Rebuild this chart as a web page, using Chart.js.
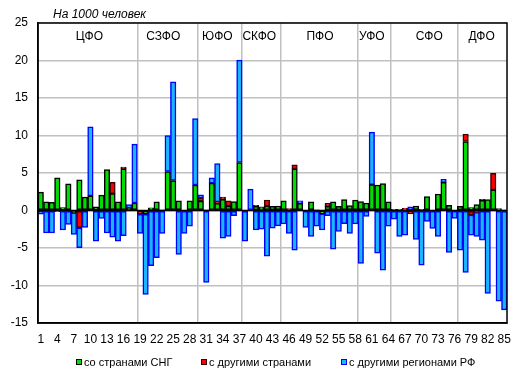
<!DOCTYPE html>
<html>
<head>
<meta charset="utf-8">
<script src="https://cdn.jsdelivr.net/npm/chart.js@4"></script>
<style>
  html, body { margin: 0; padding: 0; background: #fff; }
  #wrap { width: 520px; height: 376px; }
</style>
</head>
<body>
<div id="wrap"><canvas id="migrChart"></canvas></div>
<script>
// регионы 1..85
const regions = Array.from({ length: 85 }, (_, i) => String(i + 1));
const shownTicks = regions.filter((_, i) => i % 3 === 0);

const cisValues = [
  2.45, 1.15, 1.1, 4.35, 0.4, 3.55, -0.3, 4.1, 1.8, 1.95,
  0.5, 2.05, 5.45, 2.25, 1.15, 5.55, 0.3, 1.0, 0, -0.5,
  0.35, 1.15, 0.05, 5.2, 4.0, 1.3, 0, 1.3, 3.4, 1.25,
  0.05, 3.65, 0.95, 1.5, 0.6, 1.2, 6.4, -0.1, 0, 0.55,
  0.35, 0.6, 0.55, 0.6, 1.3, 0, 5.55, 0.95, 0, 1.15,
  0.05, -0.45, 0.55, 1.15, 0.55, 1.45, 0.65, 1.4, 1.2, 1.0,
  3.45, 3.4, 3.6, 1.15, 0.15, 0.15, 0.15, 0, 0.6, 0.15,
  1.85, 0, 2.2, 3.75, 0.7, 0, 0.55, 9.2, 0.4, 0.8,
  1.35, 1.45, 2.75, 0.25, 0.1
];
const otherCountryValues = [
  0, 0, 0, 0, 0, 0, 0, -2.3, 0, 0,
  0, 0, 0, 1.5, 0, 0.25, 0, 0, -0.5, 0,
  0, 0, 0, 0, 0, 0, 0, 0, 0, 0.45,
  0, 0, 0.2, 0.3, 0.7, 0, 0, 0, 0, 0.15,
  0.15, 0.8, 0, 0, 0, 0.25, 0.55, 0, 0, 0,
  0, 0, 0.4, 0, 0, 0, 0, 0, 0, 0,
  0, 0, 0, 0, 0, 0, 0.15, -0.45, 0, 0,
  0, 0, 0, 0, 0, 0, 0, 1.0, -0.6, -0.25,
  0.15, 0, 2.2, 0, 0
];
const otherRegionValues = [
  -0.5, -3.0, -3.0, -0.15, -2.6, -1.85, -2.9, -2.65, -2.25, 9.2,
  -4.1, -1.05, -3.0, -3.55, -4.1, -3.35, 0.5, 7.85, -2.55, -10.7,
  -7.35, -6.3, -3.05, 4.8, 13.15, -5.85, -3.05, -2.1, 8.85, 0.4,
  -9.6, 0.7, 5.1, -3.7, -3.45, -0.7, 13.65, -4.0, 2.85, -2.6,
  -2.5, -6.1, -2.35, -2.05, -1.8, -3.05, -5.3, 0.35, -2.25, -3.45,
  -2.1, -2.15, -0.7, -5.15, -2.8, -1.75, -3.05, -1.8, -7.05, -0.8,
  7.0, -5.7, -7.95, -2.1, -1.15, -3.45, -3.3, 0.5, -3.85, -7.3,
  -1.45, -2.4, -3.45, 0.4, -5.6, -1.05, -5.3, -8.25, -2.7, -3.2,
  -3.95, -11.05, 0, -12.1, -13.25
];

const seriesNames = ['со странами СНГ', 'с другими странами', 'с другими регионами РФ'];
const districts = ['ЦФО', 'СЗФО', 'ЮФО', 'СКФО', 'ПФО', 'УФО', 'СФО', 'ДФО'];
const districtEnds = [18, 29, 37, 44, 58, 64, 76];
const yTicks = [25, 20, 15, 10, 5, 0, -5, -10, -15];

const FONT = 'Arial, "Liberation Sans", sans-serif';
const fills = ['#00dd00', '#ff0000', '#19b5ff'];
const borders = ['#000000', '#400000', '#0000ff'];

// подписи округов (дробный индекс категории)
const districtLabelAt = [8.8, 22.2, 32.0, 39.6, 50.6, 60.0, 70.4, 79.9];

const overlay = {
  id: 'overlay',
  afterDatasetsDraw(chart) {
    const { ctx, chartArea: a, scales } = chart;
    const y0 = scales.y.getPixelForValue(0);
    ctx.save();
    ctx.strokeStyle = '#000';
    ctx.lineWidth = 1.5;
    ctx.beginPath();
    ctx.moveTo(a.left, y0);
    ctx.lineTo(a.right, y0);
    ctx.stroke();
    ctx.strokeRect(a.left, a.top, a.right - a.left, a.bottom - a.top);
    ctx.restore();
  },
  afterDraw(chart) {
    const { ctx, chartArea: a, scales } = chart;
    ctx.save();
    ctx.fillStyle = '#000';
    ctx.textBaseline = 'middle';
    ctx.font = 'italic 12px ' + FONT;
    ctx.textAlign = 'left';
    ctx.fillText('На 1000 человек', 53, 15);

    ctx.font = '12px ' + FONT;
    ctx.textAlign = 'center';
    districts.forEach((d, i) => {
      ctx.fillText(d, scales.x.getPixelForValue(districtLabelAt[i]), a.top + 14);
    });

    // легенда
    const lx = [76, 201, 341];
    ctx.font = '11px ' + FONT;
    ctx.textAlign = 'left';
    seriesNames.forEach((n, i) => {
      ctx.fillStyle = fills[i];
      ctx.fillRect(lx[i], 359, 6, 6);
      ctx.strokeStyle = borders[i];
      ctx.lineWidth = 1;
      ctx.strokeRect(lx[i] + 0.5, 359.5, 5, 5);
      ctx.fillStyle = '#000';
      ctx.fillText(n, lx[i] + 8, 362.5);
    });
    ctx.restore();
  }
};

const makeSet = (i, data) => ({
  label: seriesNames[i],
  data: data,
  backgroundColor: fills[i],
  borderColor: borders[i],
  borderWidth: 1.5,
  borderSkipped: false,
  barPercentage: 1,
  categoryPercentage: 1
});

new Chart(document.getElementById('migrChart'), {
  type: 'bar',
  data: {
    labels: regions,
    datasets: [
      makeSet(0, cisValues),
      makeSet(1, otherCountryValues),
      makeSet(2, otherRegionValues)
    ]
  },
  options: {
    responsive: true,
    maintainAspectRatio: false,
    animation: false,
    layout: { padding: { left: 0, right: 12, top: 23, bottom: 0 } },
    plugins: {
      legend: { display: false },
      tooltip: { enabled: false }
    },
    scales: {
      x: {
        stacked: true,
        afterFit: s => { s.height = 53; },
        border: { display: true, color: '#000', width: 1.5 },
        grid: {
          offset: true,
          drawTicks: false,
          lineWidth: 1.5,
          color: c => districtEnds.includes(c.index) ? '#c0c0c0' : 'rgba(0,0,0,0)'
        },
        ticks: {
          autoSkip: false,
          maxRotation: 0,
          padding: 9,
          color: '#000',
          font: { family: FONT, size: 12 },
          callback: (v, i) => (shownTicks.includes(regions[i]) ? regions[i] : '')
        }
      },
      y: {
        stacked: true,
        min: -15,
        max: 25,
        afterFit: s => { s.width = 38; },
        afterBuildTicks: s => { s.ticks = yTicks.map(v => ({ value: v })); },
        border: { display: true, color: '#000', width: 1.5 },
        grid: {
          drawTicks: false,
          lineWidth: 1.5,
          color: '#c0c0c0'
        },
        ticks: {
          padding: 10,
          color: '#000',
          font: { family: FONT, size: 12 }
        }
      }
    }
  },
  plugins: [overlay]
});
</script>
</body>
</html>
